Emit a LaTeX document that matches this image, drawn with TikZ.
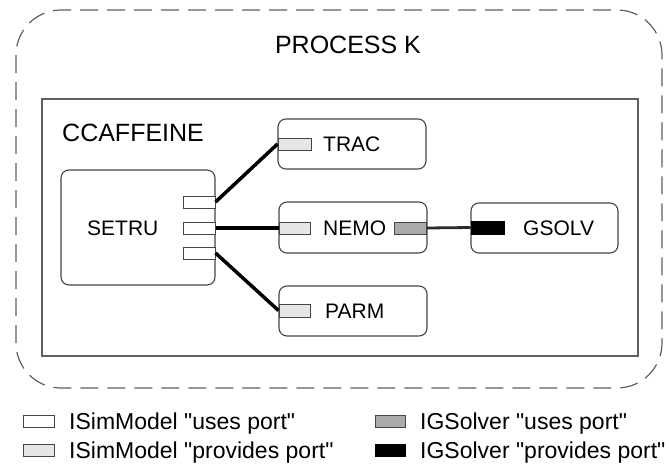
\documentclass[tikz,border=0pt]{standalone}
\usepackage{fontspec}
\setmainfont{Liberation Sans}[Ligatures=TeXOff]
\usetikzlibrary{positioning}

\definecolor{frameGray}{HTML}{606060}
\definecolor{boxGray}{HTML}{454545}
\definecolor{provLight}{HTML}{E6E6E6}
\definecolor{usesGray}{HTML}{AAAAAA}
\definecolor{wireDark}{HTML}{2A2A2A}

\newcommand{\titlefont}{\fontsize{25}{29}\selectfont}
\newcommand{\compfont}{\fontsize{21}{25}\selectfont}
\newcommand{\legfont}{\fontsize{23}{27}\selectfont}

\begin{document}
\begin{tikzpicture}[x=1pt, y=-1pt,
    comp/.style={draw=boxGray, line width=1.1pt, rounded corners=8pt, inner sep=0pt},
    port/.style={draw=boxGray, line width=1pt, minimum width=32pt, minimum height=12pt, inner sep=0pt},
    lbl/.style={anchor=west, inner sep=0pt, font=\compfont},
    wire/.style={line width=3.5pt, color=black},
    legtext/.style={anchor=base west, inner sep=0pt, font=\legfont}]
    \useasboundingbox (0, 0) rectangle (669, 466);

    % process and framework
    \draw[color=frameGray, line width=1.2pt, dash pattern=on 18pt off 9pt, rounded corners=45pt] (16, 10) rectangle (662, 388);
    \draw[color=frameGray, line width=1.3pt] (42, 99) rectangle (638, 356);
    \node[anchor=base, inner sep=0pt, font=\titlefont] (proc) at (348, 53) {PROCESS K};
    \node[anchor=base west, inner sep=0pt, font=\titlefont] (ccaf) at (62, 141) {CCAFFEINE};

    % components
    \node[comp, minimum width=154pt, minimum height=115pt] (setru) at (138, 227.5) {};
    \node[comp, minimum width=148pt, minimum height=50pt] (trac) at (352, 144) {};
    \node[comp, minimum width=148pt, minimum height=51pt] (nemo) at (353, 227.5) {};
    \node[comp, minimum width=148pt, minimum height=50pt] (parm) at (353, 311) {};
    \node[comp, minimum width=147pt, minimum height=50pt] (gsolv) at (544.5, 228) {};

    \node[lbl] (setruL) at (87, 228) {SETRU};
    \node[lbl] (tracL) at (323, 144) {TRAC};
    \node[lbl] (nemoL) at (323, 228) {NEMO};
    \node[lbl] (parmL) at (325, 311) {PARM};
    \node[lbl] (gsolvL) at (523, 228) {GSOLV};

    % ports
    \node[port, fill=white] (su1) at (199, 202) {};
    \node[port, fill=white] (su2) at (199, 228) {};
    \node[port, fill=white] (su3) at (199, 253) {};
    \node[port, fill=provLight, minimum width=33pt] (tracP) at (294.5, 144) {};
    \node[port, fill=provLight, minimum width=31pt] (nemoP) at (294.5, 228) {};
    \node[port, fill=usesGray] (nemoU) at (410, 228) {};
    \node[port, fill=provLight, minimum width=31pt, minimum height=13pt] (parmP) at (294.5, 310.5) {};
    \node[port, fill=black, draw=black, minimum width=33pt, minimum height=13pt] (gsolvP) at (487.5, 227.5) {};

    \draw[wire] (su1.east) -- (tracP.west);
    \draw[wire] (su2.east) -- (nemoP.west);
    \draw[wire] (su3.east) -- (parmP.west);
    \draw[line width=2.8pt, color=wireDark] (nemoU.east) -- (gsolvP.west);

    % legend
    \node[port, fill=white, minimum width=31pt] (key1) at (38.5, 421) {};
    \node[port, fill=provLight, minimum width=31pt] (key2) at (38.5, 450) {};
    \node[port, fill=usesGray, minimum width=30pt] (key3) at (390, 421) {};
    \node[port, fill=black, draw=black, minimum width=30pt] (key4) at (390, 450) {};
    \node[legtext] (key1T) at (69, 429) {ISimModel "uses port"};
    \node[legtext] (key2T) at (69, 458) {ISimModel "provides port"};
    \node[legtext] (key3T) at (420, 429) {IGSolver "uses port"};
    \node[legtext] (key4T) at (420, 458) {IGSolver "provides port"};
\end{tikzpicture}
\end{document}
